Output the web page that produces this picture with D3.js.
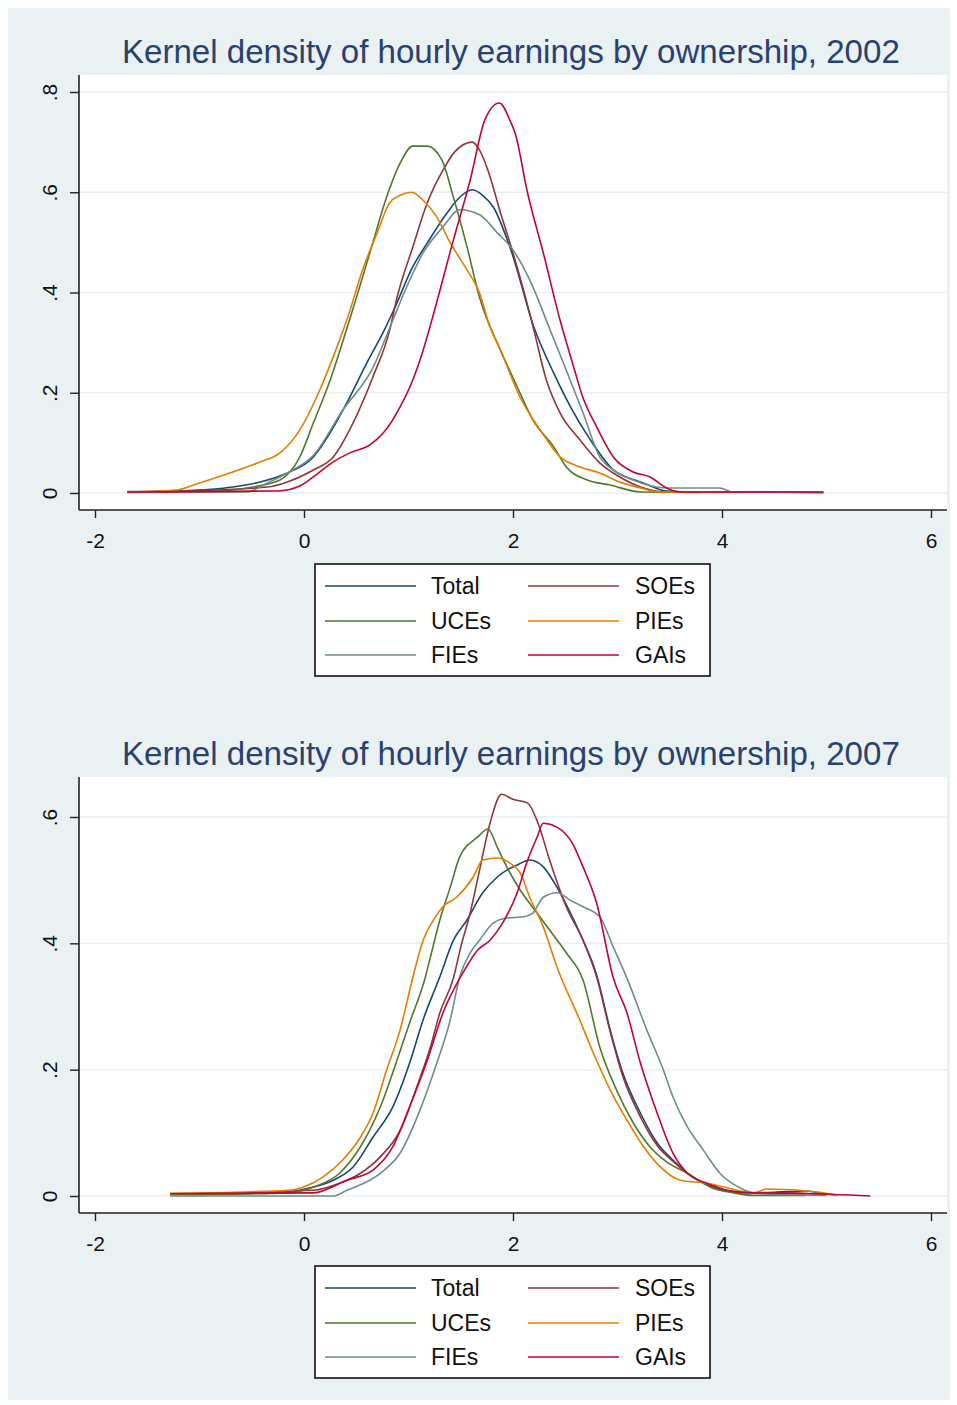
<!DOCTYPE html>
<html>
<head>
<meta charset="utf-8">
<script src="https://cdn.jsdelivr.net/npm/d3@7"></script>
<style>
  html, body { margin: 0; padding: 0; background: #ffffff; }
  svg { display: block; }
  text { font-family: "Liberation Sans", Arial, sans-serif; }
</style>
</head>
<body>
<svg id="chart" width="957" height="1405"></svg>
<script>
// ---------- DATA ----------
const seriesNames = ["Total", "SOEs", "UCEs", "PIEs", "FIEs", "GAIs"];
const seriesColors = ["#1a476f", "#90353b", "#55752f", "#e37e00", "#6e8e84", "#c10534"];
const titles = ["Kernel density of hourly earnings by ownership, 2002",
                "Kernel density of hourly earnings by ownership, 2007"];
const xTicks = [-2, 0, 2, 4, 6];
const yTicks2002 = [0, 0.2, 0.4, 0.6, 0.8];
const yTicks2007 = [0, 0.2, 0.4, 0.6];
const yTickLabels2002 = ["0", ".2", ".4", ".6", ".8"];
const yTickLabels2007 = ["0", ".2", ".4", ".6"];

// 2002 densities: [log hourly earnings, density]
const total2002 = [[-1.69,0.002],[-1.22,0.004],[-0.68,0.012],[-0.42,0.022],[-0.16,0.04],[0.09,0.072],[0.25,0.12],[0.41,0.18],[0.60,0.259],[0.78,0.33],[0.87,0.37],[1.04,0.451],[1.18,0.499],[1.37,0.559],[1.49,0.59],[1.61,0.605],[1.71,0.594],[1.81,0.571],[1.97,0.491],[2.21,0.325],[2.39,0.239],[2.55,0.172],[2.74,0.106],[2.96,0.046],[3.22,0.022],[3.34,0.012],[3.47,0.004],[3.8,0.002],[4.5,0.002],[4.97,0.001]];
const soe2002 = [[-1.69,0.003],[-1.0,0.005],[-0.35,0.012],[-0.16,0.022],[0.09,0.046],[0.28,0.072],[0.47,0.14],[0.66,0.232],[0.82,0.325],[0.89,0.39],[1.04,0.49],[1.18,0.579],[1.33,0.644],[1.44,0.68],[1.61,0.70],[1.68,0.684],[1.76,0.644],[1.88,0.559],[2.0,0.479],[2.12,0.39],[2.2,0.325],[2.32,0.225],[2.45,0.16],[2.64,0.106],[2.83,0.06],[3.02,0.032],[3.22,0.012],[3.47,0.002],[4.97,0.001]];
const uce2002 = [[-1.69,0.002],[-0.93,0.003],[-0.55,0.01],[-0.23,0.026],[-0.04,0.072],[0.09,0.14],[0.25,0.225],[0.41,0.328],[0.63,0.479],[0.79,0.59],[0.92,0.658],[1.04,0.692],[1.18,0.692],[1.32,0.664],[1.43,0.59],[1.56,0.491],[1.68,0.39],[1.88,0.285],[2.04,0.212],[2.19,0.146],[2.39,0.092],[2.51,0.052],[2.71,0.026],[2.93,0.016],[3.22,0.002],[3.8,0.001]];
const pie2002 = [[-1.69,0.002],[-1.22,0.006],[-1.0,0.02],[-0.71,0.04],[-0.42,0.062],[-0.23,0.08],[-0.04,0.126],[0.15,0.205],[0.34,0.305],[0.41,0.345],[0.56,0.445],[0.70,0.519],[0.82,0.579],[0.92,0.594],[1.03,0.60],[1.14,0.584],[1.27,0.551],[1.40,0.499],[1.56,0.445],[1.68,0.399],[1.78,0.331],[1.88,0.285],[2.07,0.19],[2.26,0.126],[2.45,0.072],[2.64,0.052],[2.83,0.04],[3.02,0.022],[3.22,0.01],[3.41,0.002],[4.2,0.001]];
const fie2002 = [[-1.69,0.001],[-0.55,0.002],[-0.35,0.02],[-0.16,0.04],[0.09,0.075],[0.37,0.165],[0.66,0.25],[0.85,0.345],[0.98,0.41],[1.14,0.479],[1.33,0.531],[1.49,0.565],[1.68,0.555],[1.85,0.519],[2.0,0.485],[2.16,0.425],[2.35,0.328],[2.51,0.245],[2.67,0.16],[2.83,0.072],[2.96,0.046],[3.15,0.026],[3.47,0.01],[3.98,0.01],[4.1,0.002],[4.97,0.001]];
const gai2002 = [[-1.69,0.002],[-0.26,0.004],[-0.04,0.014],[0.09,0.032],[0.28,0.062],[0.44,0.08],[0.63,0.096],[0.76,0.12],[0.92,0.172],[1.04,0.225],[1.14,0.285],[1.21,0.335],[1.43,0.505],[1.59,0.624],[1.73,0.744],[1.87,0.778],[1.97,0.744],[2.02,0.718],[2.14,0.598],[2.29,0.479],[2.45,0.345],[2.57,0.259],[2.67,0.19],[2.80,0.132],[2.96,0.072],[3.15,0.042],[3.31,0.032],[3.47,0.01],[3.6,0.002],[4.97,0.002]];

// 2007 densities
const total2007 = [[-1.28,0.003],[-0.23,0.005],[0.06,0.013],[0.28,0.025],[0.47,0.046],[0.66,0.093],[0.85,0.141],[1.01,0.21],[1.14,0.279],[1.30,0.347],[1.43,0.405],[1.56,0.437],[1.71,0.48],[1.85,0.505],[1.94,0.516],[2.04,0.524],[2.16,0.532],[2.29,0.521],[2.42,0.489],[2.55,0.448],[2.67,0.405],[2.80,0.35],[2.93,0.263],[3.05,0.195],[3.22,0.131],[3.38,0.084],[3.53,0.057],[3.72,0.03],[3.95,0.014],[4.17,0.005],[4.5,0.006],[4.8,0.008],[5.0,0.002]];
const soe2007 = [[-1.28,0.003],[0.09,0.009],[0.34,0.02],[0.54,0.036],[0.73,0.062],[0.92,0.104],[1.08,0.173],[1.21,0.236],[1.30,0.29],[1.43,0.345],[1.50,0.394],[1.59,0.448],[1.68,0.516],[1.78,0.59],[1.89,0.636],[2.0,0.628],[2.14,0.622],[2.24,0.59],[2.35,0.532],[2.51,0.458],[2.67,0.405],[2.80,0.347],[2.93,0.26],[3.05,0.19],[3.22,0.125],[3.38,0.08],[3.53,0.055],[3.72,0.03],[3.95,0.012],[4.2,0.006],[4.8,0.004],[5.1,0.002]];
const uce2007 = [[-1.28,0.002],[-0.16,0.005],[0.09,0.014],[0.34,0.036],[0.54,0.078],[0.73,0.141],[0.89,0.215],[1.01,0.274],[1.15,0.34],[1.22,0.385],[1.30,0.437],[1.40,0.489],[1.49,0.537],[1.66,0.568],[1.76,0.581],[1.85,0.552],[1.94,0.521],[2.07,0.484],[2.23,0.448],[2.35,0.421],[2.51,0.385],[2.67,0.342],[2.83,0.236],[2.99,0.168],[3.15,0.116],[3.31,0.078],[3.47,0.054],[3.67,0.036],[3.89,0.014],[4.11,0.005],[4.3,0.001],[4.8,0.001]];
const pie2007 = [[-1.28,0.004],[-0.87,0.005],[-0.68,0.006],[-0.16,0.009],[-0.01,0.014],[0.18,0.03],[0.37,0.057],[0.54,0.093],[0.66,0.131],[0.79,0.199],[0.92,0.263],[1.04,0.345],[1.14,0.405],[1.24,0.437],[1.33,0.458],[1.46,0.473],[1.62,0.505],[1.71,0.532],[1.85,0.535],[1.97,0.527],[2.07,0.511],[2.16,0.473],[2.29,0.426],[2.42,0.363],[2.47,0.342],[2.61,0.29],[2.77,0.226],[2.93,0.168],[3.09,0.12],[3.25,0.078],[3.41,0.046],[3.60,0.025],[3.86,0.02],[4.05,0.013],[4.3,0.005],[4.43,0.011],[4.94,0.006],[5.1,0.001]];
const fie2007 = [[-1.28,0.0],[0.28,0.0],[0.41,0.009],[0.73,0.036],[0.92,0.068],[1.11,0.136],[1.27,0.21],[1.40,0.279],[1.49,0.347],[1.59,0.385],[1.68,0.405],[1.81,0.432],[1.94,0.44],[2.10,0.442],[2.19,0.448],[2.29,0.473],[2.42,0.48],[2.55,0.468],[2.67,0.458],[2.83,0.442],[2.96,0.394],[3.09,0.345],[3.28,0.263],[3.44,0.199],[3.53,0.157],[3.67,0.109],[3.82,0.073],[3.98,0.036],[4.17,0.013],[4.30,0.005],[4.6,0.002],[5.0,0.001]];
const gai2007 = [[-1.28,0.004],[0.09,0.005],[0.41,0.025],[0.66,0.041],[0.85,0.078],[1.01,0.141],[1.18,0.215],[1.33,0.29],[1.52,0.353],[1.66,0.389],[1.78,0.405],[1.90,0.432],[2.04,0.48],[2.13,0.527],[2.23,0.568],[2.29,0.59],[2.42,0.584],[2.57,0.558],[2.67,0.521],[2.80,0.464],[2.96,0.345],[3.09,0.29],[3.22,0.21],[3.38,0.131],[3.53,0.068],[3.67,0.036],[3.86,0.02],[4.05,0.009],[4.3,0.005],[4.8,0.004],[5.42,0.0]];

const data2002 = [total2002, soe2002, uce2002, pie2002, fie2002, gai2002];
const data2007 = [total2007, soe2007, uce2007, pie2007, fie2007, gai2007];

// ---------- LAYOUT ----------
const svg = d3.select("#chart");
const BG = "#e9f1f3";
svg.append("rect").attr("x", 8).attr("y", 8).attr("width", 942).attr("height", 1392).attr("fill", BG);

const panels = [
  { top: 75, bottom: 510, yMin: 493, yMax: 92, yDomMax: 0.8, yTicks: yTicks2002, yLabels: yTickLabels2002, series: data2002, title: titles[0], titleY: 63, legendTop: 564 },
  { top: 777, bottom: 1213, yMin: 1196, yMax: 817, yDomMax: 0.6, yTicks: yTicks2007, yLabels: yTickLabels2007, series: data2007, title: titles[1], titleY: 765, legendTop: 1266 }
];

const plotLeft = 79, plotRight = 947;
const x = d3.scaleLinear().domain([-2, 6]).range([95, 931]);

panels.forEach(p => {
  const g = svg.append("g");
  const y = d3.scaleLinear().domain([0, p.yDomMax]).range([p.yMin, p.yMax]);

  // title
  const t = g.append("text").attr("x", 122).attr("y", p.titleY)
    .attr("fill", "#2a4170").attr("font-size", 29).text(p.title);
  const w = t.node().getComputedTextLength();
  t.attr("font-size", 29 * 778 / w);

  // plot region
  g.append("rect").attr("x", plotLeft).attr("y", p.top)
    .attr("width", plotRight - plotLeft).attr("height", p.bottom - p.top).attr("fill", "#ffffff");

  // gridlines
  g.selectAll(".grid").data(p.yTicks).enter().append("line")
    .attr("x1", plotLeft + 1).attr("x2", plotRight)
    .attr("y1", d => y(d)).attr("y2", d => y(d))
    .attr("stroke", "#e7eff1").attr("stroke-width", 1.5);

  // curves
  const line = d3.line().x(d => x(d[0])).y(d => y(d[1])).curve(d3.curveMonotoneX);
  p.series.forEach((s, i) => {
    g.append("path").datum(s).attr("d", line).attr("fill", "none")
      .attr("stroke", seriesColors[i]).attr("stroke-width", 1.6)
      .attr("stroke-linejoin", "round");
  });

  // y axis
  const yAxis = d3.axisLeft(y).tickValues(p.yTicks).tickSize(9).tickFormat((d, i) => p.yLabels[i]);
  const ya = g.append("g").attr("transform", `translate(${plotLeft},0)`).call(yAxis);
  ya.select(".domain").attr("stroke", "#222").attr("stroke-width", 1.6)
    .attr("d", `M0,${p.top}V${p.bottom}`);
  ya.selectAll(".tick line").attr("stroke", "#222").attr("stroke-width", 1.4);
  ya.selectAll(".tick text")
    .attr("x", null).attr("dy", null)
    .attr("transform", "translate(-22,0) rotate(-90)")
    .attr("text-anchor", "middle")
    .attr("font-size", 21).attr("fill", "#111")
    .attr("font-family", "Liberation Sans, Arial, sans-serif");

  // x axis
  const xAxis = d3.axisBottom(x).tickValues(xTicks).tickSize(8).tickFormat(d3.format("d"));
  const xa = g.append("g").attr("transform", `translate(0,${p.bottom})`).call(xAxis);
  xa.select(".domain").attr("d", `M${plotLeft},0H${plotRight}`).attr("stroke", "#222").attr("stroke-width", 1.6);
  xa.selectAll(".tick line").attr("stroke", "#222").attr("stroke-width", 1.4);
  xa.selectAll(".tick text").attr("y", 38).attr("dy", null)
    .attr("font-size", 21).attr("fill", "#111")
    .attr("font-family", "Liberation Sans, Arial, sans-serif");
  xa.selectAll(".tick text").text(d => d < 0 ? "-" + Math.abs(d) : String(d));

  // legend
  const lg = g.append("g");
  lg.append("rect").attr("x", 315).attr("y", p.legendTop).attr("width", 395).attr("height", 112)
    .attr("fill", "#ffffff").attr("stroke", "#111").attr("stroke-width", 1.6);
  const rowYs = [22, 57, 91];
  seriesNames.forEach((name, i) => {
    const col = i % 2, row = Math.floor(i / 2);
    const ly = p.legendTop + rowYs[row];
    const lx = col === 0 ? 325 : 528;
    lg.append("line").attr("x1", lx).attr("x2", lx + 91).attr("y1", ly).attr("y2", ly)
      .attr("stroke", seriesColors[i]).attr("stroke-width", 1.6);
    lg.append("text").attr("x", col === 0 ? 431 : 635).attr("y", ly + 8)
      .attr("font-size", 23).attr("fill", "#111").text(name);
  });
});
</script>
</body>
</html>
